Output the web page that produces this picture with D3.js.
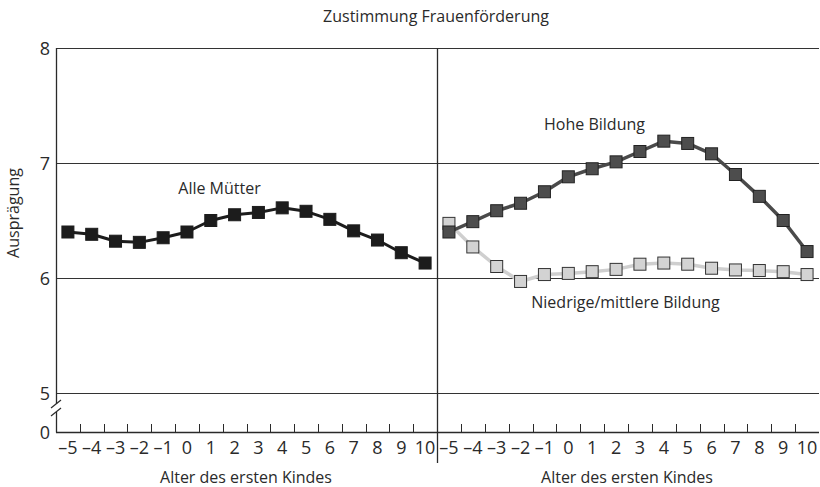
<!DOCTYPE html>
<html>
<head>
<meta charset="utf-8">
<script src="https://cdn.jsdelivr.net/npm/d3@7"></script>
<style>
  html, body { margin: 0; padding: 0; background: #fff; }
  svg { display: block; }
  text { font-family: "Open Sans", sans-serif; fill: #2a2a2a; }
</style>
</head>
<body>
<svg id="chart" width="820" height="487"></svg>
<script>
// ---- data ----
const ages = [-5, -4, -3, -2, -1, 0, 1, 2, 3, 4, 5, 6, 7, 8, 9, 10];
const ageLabels = ["–5","–4","–3","–2","–1","0","1","2","3","4","5","6","7","8","9","10"];
const alleMuetter = [6.40, 6.38, 6.32, 6.31, 6.35, 6.40, 6.50, 6.55, 6.57, 6.61, 6.58, 6.51, 6.41, 6.33, 6.22, 6.13];
const hoheBildung = [6.40, 6.49, 6.585, 6.65, 6.75, 6.88, 6.95, 7.01, 7.10, 7.19, 7.17, 7.08, 6.90, 6.71, 6.50, 6.23];
const niedrigeBildung = [6.475, 6.27, 6.10, 5.97, 6.03, 6.04, 6.055, 6.075, 6.12, 6.13, 6.12, 6.085, 6.07, 6.065, 6.055, 6.03];
const yTicks = [5, 6, 7, 8];
const yBreakLabel = "0";
const title = "Zustimmung Frauenförderung";
const yTitle = "Ausprägung";
const xTitle = "Alter des ersten Kindes";

// ---- layout ----
const svg = d3.select("#chart");
const xL0 = 56, xMid = 437, xR1 = 819;
const yTop = 48, yFive = 393, yAxis = 432;

const y = d3.scaleLinear().domain([5, 8]).range([yFive, yTop]);
const xLeft = d3.scaleBand().domain(ages).range([xL0, xMid]);
const xRight = d3.scaleBand().domain(ages).range([xMid, xR1]);

const ink = "#2a2a2a";

// gridlines
svg.append("g").selectAll("line").data(yTicks).join("line")
  .attr("x1", xL0).attr("x2", xR1)
  .attr("y1", d => Math.round(y(d)) + 0.5).attr("y2", d => Math.round(y(d)) + 0.5)
  .attr("stroke", "#333").attr("stroke-width", 1);

// bottom axis line
svg.append("line").attr("x1", xL0).attr("x2", xR1)
  .attr("y1", yAxis + 0.5).attr("y2", yAxis + 0.5)
  .attr("stroke", ink).attr("stroke-width", 1.3);

// panel divider
svg.append("line").attr("x1", xMid + 0.5).attr("x2", xMid + 0.5)
  .attr("y1", yTop).attr("y2", 463).attr("stroke", ink).attr("stroke-width", 1.3);

// left y-axis with break
svg.append("line").attr("x1", xL0 + 0.5).attr("x2", xL0 + 0.5)
  .attr("y1", yTop).attr("y2", 404).attr("stroke", ink).attr("stroke-width", 1.3);
svg.append("line").attr("x1", xL0 + 0.5).attr("x2", xL0 + 0.5)
  .attr("y1", 412).attr("y2", yAxis + 0.5).attr("stroke", ink).attr("stroke-width", 1.3);
[404, 412].forEach(yy => {
  svg.append("line").attr("x1", xL0 - 5).attr("y1", yy + 4)
    .attr("x2", xL0 + 5).attr("y2", yy - 4)
    .attr("stroke", ink).attr("stroke-width", 1.2);
});

// x ticks (at band boundaries, pointing up)
function drawTicks(scale) {
  const bounds = scale.domain().slice(1).map(d => scale(d));
  svg.append("g").selectAll("line").data(bounds).join("line")
    .attr("x1", d => Math.round(d) + 0.5).attr("x2", d => Math.round(d) + 0.5)
    .attr("y1", yAxis).attr("y2", yAxis - 8)
    .attr("stroke", ink).attr("stroke-width", 1);
  svg.append("g").selectAll("text").data(ages).join("text")
    .attr("x", d => scale(d) + scale.bandwidth() / 2)
    .attr("y", 454)
    .attr("text-anchor", "middle")
    .attr("font-size", 18)
    .text((d, i) => ageLabels[i]);
}
drawTicks(xLeft);
drawTicks(xRight);

// y tick labels
svg.append("g").selectAll("text").data(yTicks).join("text")
  .attr("x", 50).attr("y", d => y(d) + 6.5)
  .attr("text-anchor", "end").attr("font-size", 18)
  .text(d => d);
svg.append("text").attr("x", 50).attr("y", yAxis + 6.5)
  .attr("text-anchor", "end").attr("font-size", 18).text(yBreakLabel);

// titles
svg.append("text").attr("x", 436).attr("y", 22).attr("text-anchor", "middle")
  .attr("font-size", 16).text(title);
svg.append("text").attr("transform", "translate(19,213) rotate(-90)")
  .attr("text-anchor", "middle").attr("font-size", 16).text(yTitle);
svg.append("text").attr("x", 246).attr("y", 483).attr("text-anchor", "middle")
  .attr("font-size", 16).text(xTitle);
svg.append("text").attr("x", 627).attr("y", 483).attr("text-anchor", "middle")
  .attr("font-size", 16).text(xTitle);

// series
function drawSeries(scale, values, lineColor, fill, stroke, lw) {
  const cx = d => scale(d) + scale.bandwidth() / 2;
  const pts = ages.map((a, i) => [cx(a), y(values[i])]);
  svg.append("path").attr("d", d3.line()(pts))
    .attr("fill", "none").attr("stroke", lineColor).attr("stroke-width", lw)
    .attr("stroke-linejoin", "round");
  const s = 12;
  svg.append("g").selectAll("rect").data(pts).join("rect")
    .attr("x", d => d[0] - s / 2).attr("y", d => d[1] - s / 2)
    .attr("width", s).attr("height", s)
    .attr("fill", fill).attr("stroke", stroke).attr("stroke-width", 1);
}
drawSeries(xLeft, alleMuetter, "#1c1c1c", "#1c1c1c", "#1c1c1c", 3);
drawSeries(xRight, niedrigeBildung, "#cfcfcf", "#d3d3d3", "#333", 3.5);
drawSeries(xRight, hoheBildung, "#4a4a4a", "#4d4d4d", "#222", 3.5);

// series labels
svg.append("text").attr("x", 219.5).attr("y", 194).attr("text-anchor", "middle")
  .attr("font-size", 16).text("Alle Mütter");
svg.append("text").attr("x", 594.5).attr("y", 130).attr("text-anchor", "middle")
  .attr("font-size", 16).text("Hohe Bildung");
svg.append("text").attr("x", 625.5).attr("y", 308).attr("text-anchor", "middle")
  .attr("font-size", 16).text("Niedrige/mittlere Bildung");
</script>
</body>
</html>
